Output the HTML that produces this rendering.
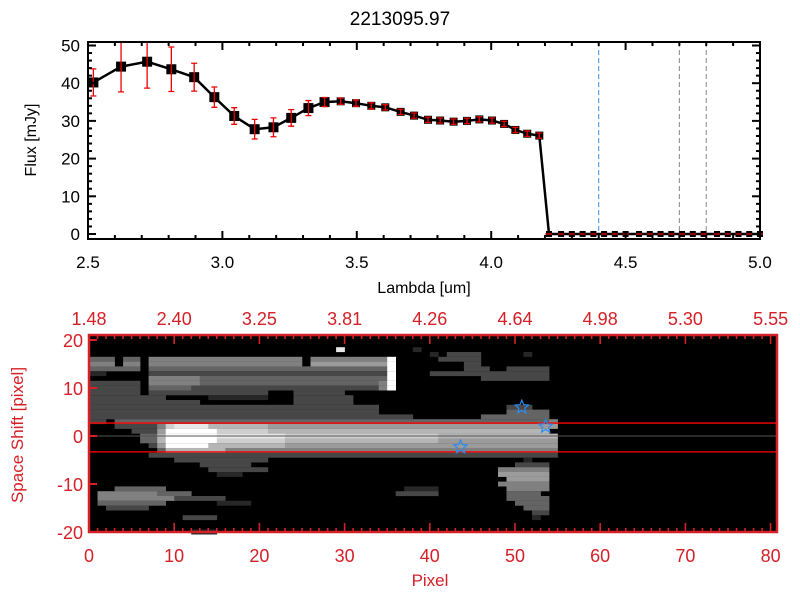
<!DOCTYPE html>
<html><head><meta charset="utf-8"><style>
html,body{margin:0;padding:0;background:#fff;}
svg{display:block;font-family:"Liberation Sans",sans-serif;}
</style></head><body>
<svg id="c" width="800" height="600" viewBox="0 0 800 600">
<rect width="800" height="600" fill="#fff"/>
<text x="400" y="25" text-anchor="middle" font-size="19" fill="#000">2213095.97</text>
<g id="topPanel"></g>
<g id="botPanel"></g>
</svg>
<script>
// ---- spectrum data ----
const waves = [2.52,2.623,2.72,2.81,2.895,2.97,3.044,3.12,3.19,3.256,3.32,3.38,3.44,3.497,3.554,3.606,3.663,3.713,3.765,3.81,3.86,3.91,3.956,4.003,4.048,4.09,4.134,4.179,
 4.215,4.26,4.30,4.34,4.38,4.42,4.46,4.50,4.55,4.59,4.63,4.67,4.71,4.75,4.79,4.84,4.88,4.92,4.96,5.00];
const flux = [40.2,44.4,45.7,43.7,41.6,36.3,31.3,27.8,28.3,30.8,33.4,35,35.2,34.7,34,33.6,32.4,31.4,30.3,30.1,29.8,30,30.4,30.1,29.2,27.6,26.6,26.1,
 0,0,0,0,0,0,0,0,0,0,0,0,0,0,0,0,0,0,0,0];
const errs = [3.6,6.7,7,5.9,3.7,2.7,2.2,2.6,2.5,2.2,2,1.2,0.8,0.8,0.8,0.7,0.7,0.7,0.7,0.7,0.7,0.7,0.7,0.7,0.7,0.7,0.7,0.7,
 0,0,0,0,0,0,0,0,0,0,0,0,0,0,0,0,0,0,0,0];
const xTicks = ["2.5","3.0","3.5","4.0","4.5","5.0"];
const yTicks = ["0","10","20","30","40","50"];
const vLinesBlue = [4.4];
const vLinesGrey = [4.7,4.8];
// ---- image data ----
const pixTicks = ["0","10","20","30","40","50","60","70","80"];
const lamTicks = ["1.48","2.40","3.25","3.81","4.26","4.64","4.98","5.30","5.55"];
const shiftTicks = ["20","10","0","-10","-20"];
const rowVals = [20,19,18,17,16,15,14,13,12,11,10,9,8,7,6,5,4,3,2,1,0,-1,-2,-3,-4,-5,-6,-7,-8,-9,-10,-11,-12,-13,-14,-15,-16,-17,-18,-19,-20];
const rowRuns = [
"", "", "29-29:8,38-38:1", "40-40:1,42-45:2,51-51:1",
"0-2:3,4-5:3,7-24:4,26-34:4,35-35:9,41-45:2",
"0-2:4,4-5:4,7-24:4,26-34:5,35-35:9,44-45:2",
"0-5:3,7-34:3,35-35:9,44-46:2,49-53:2",
"0-1:1,7-34:2,35-35:9,40-53:2",
"7-12:4,13-34:3,35-35:9,46-53:2",
"0-5:2,7-12:4,13-33:3,34-34:4,35-35:9",
"0-5:2,7-11:3,12-33:2,34-34:4,35-35:9",
"0-5:2,7-20:2,24-29:2",
"0-8:2,14-20:1,24-30:2",
"0-12:2,24-30:2",
"0-33:2,49-51:2",
"0-33:2,49-53:3",
"0-37:2,46-53:3",
"0-1:2,3-8:3,9-53:3,54-54:4",
"3-7:2,8-8:4,9-9:7,10-13:8,14-20:6,21-54:5",
"5-7:2,8-8:5,9-14:9,15-20:7,21-53:6",
"6-7:3,8-8:6,9-14:9,15-22:8,23-40:7,41-54:6",
"6-7:3,8-8:6,9-14:9,15-22:7,23-40:6,41-54:5",
"7-7:2,8-8:5,9-13:9,14-22:6,23-54:5",
"8-8:3,9-15:6,16-54:4",
"7-54:2",
"10-20:2,51-51:1",
"13-18:2,50-53:2",
"14-20:2,48-53:4",
"15-17:1,48-53:5",
"49-53:5",
"48-53:4",
"3-8:3,37-40:1,49-53:4",
"1-7:4,8-11:3,36-40:2,49-52:3",
"1-9:4,10-15:2,49-53:3",
"1-8:3,15-18:1,50-53:3",
"2-6:2,51-53:3",
"52-53:2",
"11-14:2,52-52:1",
"", "", "12-14:1"
];
const stars = [[50.8,6],[53.6,2],[43.6,-2.3]];
const redLines = [2.7,-3.3];
const greyLines = [0];

const NS="http://www.w3.org/2000/svg";
function mk(parent,tag,attrs){const e=document.createElementNS(NS,tag);for(const k in attrs)e.setAttribute(k,attrs[k]);parent.appendChild(e);return e;}

// ===== top panel =====
const topG=document.getElementById('topPanel');
const X0=88,X1=760,Y0=239,Y1=42;
const xs=w=>X0+(w-2.5)/2.5*(X1-X0);
const ys=f=>234-f*3.77;
vLinesBlue.forEach(w=>{const l=mk(topG,'line',{x1:xs(w),x2:xs(w),y1:Y1,y2:Y0,stroke:'#3a8ee6','stroke-width':1,'stroke-dasharray':'5,3'});

});
vLinesGrey.forEach(w=>{const l=mk(topG,'line',{x1:xs(w),x2:xs(w),y1:Y1,y2:Y0,stroke:'#888','stroke-width':1,'stroke-dasharray':'5,3'});

});
const zl=mk(topG,'line',{x1:xs(4.2),x2:X1,y1:ys(0),y2:ys(0),stroke:'#e00','stroke-width':1,'stroke-dasharray':'4,3'});


let d='';waves.forEach((w,i)=>{d+=(i?'L':'M')+xs(w).toFixed(1)+','+ys(flux[i]).toFixed(1);});
const pl=mk(topG,'path',{d:d,fill:'none',stroke:'#000','stroke-width':2.5});


waves.forEach((w,i)=>{
  const x=xs(w),y=ys(flux[i]);
  const s=i<12?10:(flux[i]>0?8:6);
  const m=mk(topG,'rect',{x:x-s/2,y:y-s/2,width:s,height:s,fill:'#000'});
  
  
  const e=errs[i];const et=Math.max(ys(flux[i]+e),Y1),eb2=ys(flux[i]-e);
  const eb=mk(topG,'path',{d:`M${x},${et}L${x},${eb2}M${x-3},${et}L${x+3},${et}M${x-3},${eb2}L${x+3},${eb2}`,stroke:'#e00','stroke-width':1.3,fill:'none'});
  
  
});
const fr=mk(topG,'rect',{x:X0,y:Y1,width:X1-X0,height:Y0-Y1,fill:'none',stroke:'#000','stroke-width':2});


for(let k=0;k<=25;k++){const w=2.5+k*0.1;const x=xs(w);const L=(k%5==0)?8:4;
  mk(topG,'line',{x1:x,x2:x,y1:Y0,y2:Y0-L,stroke:'#000','stroke-width':2});
  mk(topG,'line',{x1:x,x2:x,y1:Y1,y2:Y1+L,stroke:'#000','stroke-width':2});}
for(let k=0;k<=25;k++){const f=k*2;const y=ys(f);if(y<Y1)continue;const L=(k%5==0)?8:4;
  mk(topG,'line',{x1:X0,x2:X0+L,y1:y,y2:y,stroke:'#000','stroke-width':2});
  mk(topG,'line',{x1:X1,x2:X1-L,y1:y,y2:y,stroke:'#000','stroke-width':2});}
xTicks.forEach(t=>{const tx=mk(topG,'text',{x:xs(parseFloat(t)),y:Y0+29,'text-anchor':'middle','font-size':17,fill:'#000'});tx.textContent=t;

});
yTicks.forEach(t=>{const tx=mk(topG,'text',{x:X0-8,y:ys(parseFloat(t))+6,'text-anchor':'end','font-size':17,fill:'#000'});tx.textContent=t;

});
const xt=mk(topG,'text',{x:424,y:293,'text-anchor':'middle','font-size':16,fill:'#000'});xt.textContent='Lambda [um]';


const ytt=mk(topG,'text',{x:0,y:0,'text-anchor':'middle','font-size':16,fill:'#000',transform:'translate(36,140) rotate(-90)'});ytt.textContent='Flux [mJy]';



// ===== bottom panel =====
const botG=document.getElementById('botPanel');
const BX0=89,BX1=777,BY0=532,BY1=335,RED='#d42027';
const px=p=>BX0+p*8.52;
const py=v=>436-v*4.8;
mk(botG,'rect',{x:BX0,y:BY1,width:BX1-BX0,height:BY0-BY1,fill:'#000'});
rowRuns.forEach((spec,r)=>{
  if(!spec)return;
  spec.split(',').forEach(run=>{
    const [rng,lv]=run.split(':');const [a,b]=rng.split('-').map(Number);
    const g=Math.round(255*Math.pow(Number(lv)/9,0.85));
    const c=mk(botG,'rect',{x:px(a).toFixed(1),y:py(rowVals[r]+0.5).toFixed(1),width:((b-a+1)*8.52+0.3).toFixed(1),height:4.9,fill:`rgb(${g},${g},${g})`});
    
    
  });
});
greyLines.forEach(v=>{const l=mk(botG,'line',{x1:BX0,x2:BX1,y1:py(v),y2:py(v),stroke:'#555','stroke-width':1});

});
redLines.forEach(v=>{const l=mk(botG,'line',{x1:BX0,x2:BX1,y1:py(v),y2:py(v),stroke:'#f00','stroke-width':1.3});

});
function starPath(cx,cy,R){let s='';for(let i=0;i<10;i++){const r=i%2?R*0.45:R;const a=-Math.PI/2+i*Math.PI/5;s+=(i?'L':'M')+(cx+r*Math.cos(a)).toFixed(1)+','+(cy+r*Math.sin(a)).toFixed(1);}return s+'Z';}
stars.forEach(s=>{const p=mk(botG,'path',{d:starPath(px(s[0]),py(s[1]),7),fill:'none',stroke:'#2a8cf0','stroke-width':1.2});

});
const bf=mk(botG,'rect',{x:BX0,y:BY1,width:BX1-BX0,height:BY0-BY1,fill:'none',stroke:RED,'stroke-width':2.5});


for(let p=0;p<=80;p++){const x=px(p);const L=(p%10==0)?9:4;
  mk(botG,'line',{x1:x,x2:x,y1:BY0,y2:BY0-L,stroke:RED,'stroke-width':1.6});
  mk(botG,'line',{x1:x,x2:x,y1:BY1,y2:BY1+L,stroke:RED,'stroke-width':1.6});}
shiftTicks.forEach(t=>{const y=py(parseFloat(t));mk(botG,'line',{x1:BX0,x2:BX0+8,y1:y,y2:y,stroke:RED,'stroke-width':2});
 const tx=mk(botG,'text',{x:BX0-6,y:y+7,'text-anchor':'end','font-size':18,fill:RED});tx.textContent=t;
 
 });
pixTicks.forEach(t=>{const tx=mk(botG,'text',{x:px(parseFloat(t)),y:562,'text-anchor':'middle','font-size':18,fill:RED});tx.textContent=t;
 
 });
lamTicks.forEach((t,i)=>{const tx=mk(botG,'text',{x:px(i*10),y:325,'text-anchor':'middle','font-size':18,fill:RED});tx.textContent=t;
 
 });
const bxt=mk(botG,'text',{x:430,y:586,'text-anchor':'middle','font-size':17,fill:RED});bxt.textContent='Pixel';


const byt=mk(botG,'text',{x:0,y:0,'text-anchor':'middle','font-size':17,fill:RED,transform:'translate(23,435) rotate(-90)'});byt.textContent='Space Shift [pixel]';


</script>
</body></html>
